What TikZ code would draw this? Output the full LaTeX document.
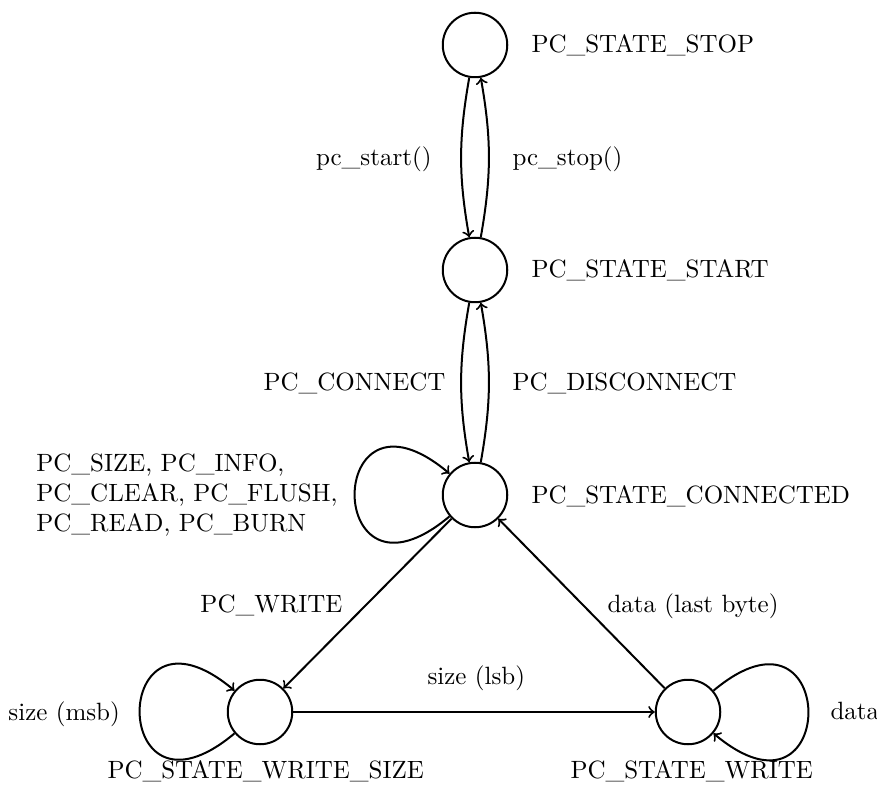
\documentclass[tikz,border=0pt]{standalone}
\usetikzlibrary{arrows}
\begin{document}
\begin{tikzpicture}[x=0.4pt,y=-0.4pt,
  state/.style={circle,draw,thick,minimum size=25.8pt,inner sep=0pt},
  lbl/.style={inner sep=0pt},
  edge/.style={->,thick}]
\useasboundingbox (0,0) rectangle (877,790);
\node[state] (stop) at (475,45) {};
\node[state] (start) at (475,270) {};
\node[state] (conn) at (475,495) {};
\node[state] (ws) at (260,712) {};
\node[state] (w) at (688,712) {};

\node[lbl,anchor=base west] (tstop) at (531,53) {PC\_STATE\_STOP};
\node[lbl,anchor=base west] (tstart) at (531,278) {PC\_STATE\_START};
\node[lbl,anchor=base west] (tconn) at (531,503) {PC\_STATE\_CONNECTED};
\node[lbl,anchor=base west] (tws) at (107,778) {PC\_STATE\_WRITE\_SIZE};
\node[lbl,anchor=base west] (tw) at (570,778) {PC\_STATE\_WRITE};

\draw[edge] (stop) to[bend right=10] (start);
\draw[edge] (start) to[bend right=10] (stop);
\draw[edge] (start) to[bend right=10] (conn);
\draw[edge] (conn) to[bend right=10] (start);
\draw[edge] (conn.220) .. controls +(220:66pt) and +(140:66pt) .. (conn.140);
\draw[edge] (ws.220) .. controls +(220:66pt) and +(140:66pt) .. (ws.140);
\draw[edge] (w.40) .. controls +(40:66pt) and +(-40:66pt) .. (w.-40);
\draw[edge] (conn) -- (ws);
\draw[edge] (ws) -- (w);
\draw[edge] (w) -- (conn);

\node[lbl,anchor=base east] (lstart) at (432,166) {pc\_start()};
\node[lbl,anchor=base west] (lstop) at (512,166) {pc\_stop()};
\node[lbl,anchor=base east] (lcon) at (446,391) {PC\_CONNECT};
\node[lbl,anchor=base west] (ldis) at (512,391) {PC\_DISCONNECT};
\node[lbl,anchor=east,align=left] (lloop) at (338,495) {PC\_SIZE, PC\_INFO,\\PC\_CLEAR, PC\_FLUSH,\\PC\_READ, PC\_BURN};
\node[lbl,anchor=base east] (lwrite) at (343,612) {PC\_WRITE};
\node[lbl,anchor=base west] (llast) at (607,612) {data (last byte)};
\node[lbl,anchor=base west] (llsb) at (427,684) {size (lsb)};
\node[lbl,anchor=base west] (lmsb) at (8,720) {size (msb)};
\node[lbl,anchor=base west] (ldata) at (830,719) {data};
\end{tikzpicture}
\end{document}
